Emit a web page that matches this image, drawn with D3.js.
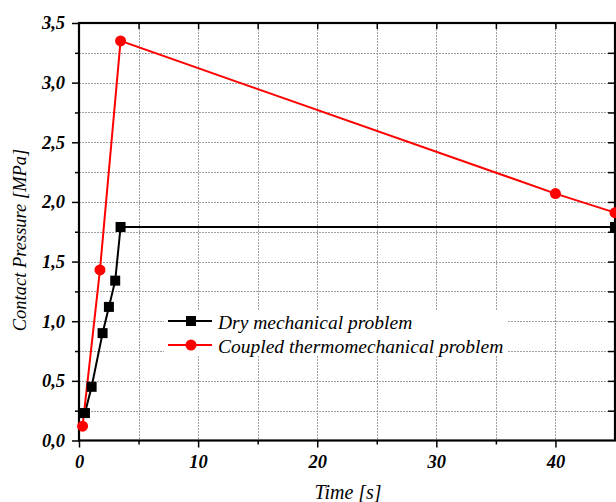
<!DOCTYPE html>
<html>
<head>
<meta charset="utf-8">
<script src="https://cdn.jsdelivr.net/npm/d3@7"></script>
<style>
body { margin: 0; background: #fff; }
svg { display: block; }
</style>
</head>
<body>
<div id="viz"></div>
<script>
var width = 616;
var height = 502;

// data
var dryTime = [0.5, 1.06, 1.98, 2.51, 3.04, 3.49, 45];
var dryPressure = [0.23, 0.45, 0.90, 1.12, 1.34, 1.79, 1.79];
var coupledTime = [0.3, 1.76, 3.49, 40, 45];
var coupledPressure = [0.12, 1.43, 3.35, 2.07, 1.91];
var xTicks = [0, 10, 20, 30, 40];
var yTicks = [0, 0.5, 1, 1.5, 2, 2.5, 3, 3.5];
var seriesNames = ["Dry mechanical problem", "Coupled thermomechanical problem"];

var plotLeft = 79, plotRight = 615, plotTop = 23, plotBottom = 440.5;
var font = "Liberation Serif, Times New Roman, serif";

var canvas = d3.select('#viz')
	.append('svg')
	.attr("width", width)
	.attr("height", height);

var xScale = d3.scaleLinear().domain([0, 45]).range([plotLeft, plotRight]);
var yScale = d3.scaleLinear().domain([0, 3.5]).range([plotBottom, plotTop]);

var fmt = function(d){ return d3.format(".1f")(d).replace(".", ","); };

// grid
var grid = canvas.append("g")
	.attr("stroke", "#a0a0a0")
	.attr("stroke-width", 1)
	.attr("stroke-dasharray", "2,1");
grid.selectAll(".vg")
	.data(d3.range(5, 45, 5))
	.enter().append("line")
	.attr("x1", function(d){ return Math.round(xScale(d)) + 0.5; })
	.attr("x2", function(d){ return Math.round(xScale(d)) + 0.5; })
	.attr("y1", plotTop).attr("y2", plotBottom);
grid.selectAll(".hg")
	.data(d3.range(0.25, 3.5, 0.25))
	.enter().append("line")
	.attr("y1", function(d){ return Math.round(yScale(d)) + 0.5; })
	.attr("y2", function(d){ return Math.round(yScale(d)) + 0.5; })
	.attr("x1", plotLeft).attr("x2", plotRight);

// axes
var xAxis = d3.axisBottom(xScale).tickValues(xTicks).tickFormat(d3.format("d")).tickSize(7).tickPadding(7);
var xMinor = d3.axisBottom(xScale).tickValues([5, 15, 25, 35]).tickFormat("").tickSize(4);
var yAxis = d3.axisLeft(yScale).tickValues(yTicks).tickFormat(fmt).tickSize(7).tickPadding(7);
var yMinor = d3.axisLeft(yScale).tickValues(d3.range(0.25, 3.5, 0.5)).tickFormat("").tickSize(4);
var xTop = d3.axisBottom(xScale).tickValues(d3.range(5, 45, 5)).tickFormat("").tickSize(6);
var yRight = d3.axisLeft(yScale).tickValues(d3.range(0.25, 3.5, 0.25)).tickFormat("").tickSize(7);

function styleAxis(g) {
	g.select(".domain").remove();
	g.selectAll(".tick line").attr("stroke", "#000").attr("stroke-width", 1.5);
	g.selectAll("text")
		.attr("font-family", font)
		.attr("font-size", 18.5)
		.attr("font-weight", "bold")
		.attr("font-style", "italic")
		.attr("fill", "#000");
}

canvas.append("g").attr("transform", "translate(0," + plotBottom + ")").call(xAxis).call(styleAxis);
canvas.append("g").attr("transform", "translate(0," + plotBottom + ")").call(xMinor).call(styleAxis);
canvas.append("g").attr("transform", "translate(" + plotLeft + ",0)").call(yAxis).call(styleAxis);
canvas.append("g").attr("transform", "translate(" + plotLeft + ",0)").call(yMinor).call(styleAxis);
canvas.append("g").attr("transform", "translate(0," + plotTop + ")").call(xTop).call(styleAxis);
canvas.append("g").attr("transform", "translate(" + plotRight + ",0)").call(yRight).call(styleAxis);

// frame
canvas.append("rect")
	.attr("x", plotLeft).attr("y", plotTop)
	.attr("width", plotRight - plotLeft).attr("height", plotBottom - plotTop)
	.attr("fill", "none")
	.attr("stroke", "#000")
	.attr("stroke-width", 2.2);

// series
var dry = dryTime.map(function(t, i){ return [t, dryPressure[i]]; });
var coupled = coupledTime.map(function(t, i){ return [t, coupledPressure[i]]; });
var line = d3.line()
	.x(function(d){ return xScale(d[0]); })
	.y(function(d){ return yScale(d[1]); });

canvas.append("path").datum(dry)
	.attr("d", line).attr("fill", "none").attr("stroke", "#000").attr("stroke-width", 2);
canvas.append("path").datum(coupled)
	.attr("d", line).attr("fill", "none").attr("stroke", "#ff0000").attr("stroke-width", 2);

canvas.selectAll(".sq")
	.data(dry)
	.enter().append("rect")
	.attr("x", function(d){ return xScale(d[0]) - 5; })
	.attr("y", function(d){ return yScale(d[1]) - 5; })
	.attr("width", 10).attr("height", 10)
	.attr("fill", "#000");

canvas.selectAll(".ci")
	.data(coupled)
	.enter().append("circle")
	.attr("cx", function(d){ return xScale(d[0]); })
	.attr("cy", function(d){ return yScale(d[1]); })
	.attr("r", 5.5)
	.attr("fill", "#ff0000");

// legend
var legend = canvas.append("g");
legend.append("rect")
	.attr("x", 164).attr("y", 311)
	.attr("width", 344).attr("height", 45)
	.attr("fill", "#fff");
var rows = legend.selectAll(".row")
	.data(seriesNames)
	.enter().append("g")
	.attr("transform", function(d, i){ return "translate(0," + (321 + i * 24) + ")"; });
rows.append("line")
	.attr("x1", 168).attr("x2", 212)
	.attr("stroke", function(d, i){ return i ? "#ff0000" : "#000"; })
	.attr("stroke-width", 2);
rows.each(function(d, i){
	var g = d3.select(this);
	if (i === 0) {
		g.append("rect").attr("x", 186).attr("y", -5).attr("width", 10).attr("height", 10).attr("fill", "#000");
	} else {
		g.append("circle").attr("cx", 191).attr("cy", 0).attr("r", 5.5).attr("fill", "#ff0000");
	}
});
rows.append("text")
	.attr("x", 218).attr("y", 7.5)
	.attr("font-family", font)
	.attr("font-size", 19.5)
	.attr("font-style", "italic")
	.text(function(d){ return d; });

// axis titles
canvas.append("text")
	.attr("x", 348).attr("y", 499)
	.attr("text-anchor", "middle")
	.attr("font-family", font)
	.attr("font-size", 20)
	.attr("font-style", "italic")
	.text("Time [s]");

canvas.append("text")
	.attr("transform", "translate(26,240) rotate(-90)")
	.attr("text-anchor", "middle")
	.attr("font-family", font)
	.attr("font-size", 18.5)
	.attr("font-style", "italic")
	.text("Contact Pressure [MPa]");
</script>
</body>
</html>
